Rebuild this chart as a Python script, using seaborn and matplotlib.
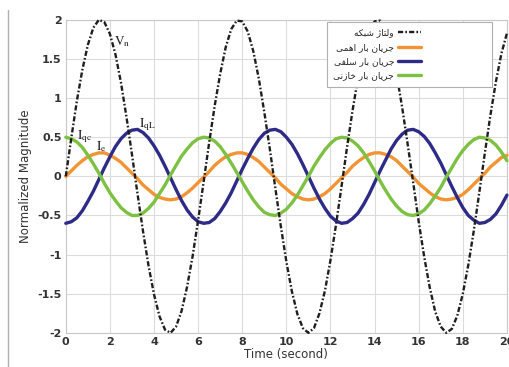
import numpy as np
import pandas as pd
import matplotlib
matplotlib.use("Agg")
import matplotlib.pyplot as plt
from matplotlib.lines import Line2D
import seaborn as sns

# sample times (s)
time = np.arange(0, 20.25, 0.25)

# values
vn = [0.00, 0.49, 0.96, 1.36, 1.68, 1.90, 2.00, 1.97, 1.82, 1.56, 1.20, 0.76, 0.28,
      -0.22, -0.70, -1.14, -1.51, -1.79, -1.96, -2.00, -1.92, -1.72, -1.41, -1.02, -0.56,
      -0.07, 0.43, 0.90, 1.31, 1.65, 1.88, 1.99, 1.98, 1.85, 1.60, 1.25, 0.82,
      0.35, -0.15, -0.64, -1.09, -1.47, -1.76, -1.94, -2.00, -1.94, -1.75, -1.46, -1.07,
      -0.62, -0.13, 0.37, 0.84, 1.26, 1.61, 1.85, 1.98, 1.99, 1.87, 1.64, 1.30,
      0.88, 0.41, -0.08, -0.58, -1.03, -1.42, -1.73, -1.92, -2.00, -1.95, -1.78, -1.50,
      -1.13, -0.69, -0.20, 0.30, 0.78, 1.21, 1.57, 1.83]
ie = [0.00, 0.07, 0.14, 0.20, 0.25, 0.28, 0.30, 0.30, 0.27, 0.23, 0.18, 0.11, 0.04,
      -0.03, -0.11, -0.17, -0.23, -0.27, -0.29, -0.30, -0.29, -0.26, -0.21, -0.15, -0.08,
      -0.01, 0.06, 0.14, 0.20, 0.25, 0.28, 0.30, 0.30, 0.28, 0.24, 0.19, 0.12,
      0.05, -0.02, -0.10, -0.16, -0.22, -0.26, -0.29, -0.30, -0.29, -0.26, -0.22, -0.16,
      -0.09, -0.02, 0.05, 0.13, 0.19, 0.24, 0.28, 0.30, 0.30, 0.28, 0.25, 0.20,
      0.13, 0.06, -0.01, -0.09, -0.15, -0.21, -0.26, -0.29, -0.30, -0.29, -0.27, -0.23,
      -0.17, -0.10, -0.03, 0.04, 0.12, 0.18, 0.24, 0.27]
iql = [-0.60, -0.58, -0.53, -0.44, -0.32, -0.19, -0.04, 0.11, 0.25, 0.38, 0.48, 0.55, 0.59,
       0.60, 0.56, 0.49, 0.39, 0.27, 0.13, -0.02, -0.17, -0.31, -0.43, -0.52, -0.58,
       -0.60, -0.59, -0.54, -0.45, -0.34, -0.21, -0.06, 0.09, 0.23, 0.36, 0.47, 0.55,
       0.59, 0.60, 0.57, 0.50, 0.41, 0.29, 0.15, 0.00, -0.15, -0.29, -0.41, -0.51,
       -0.57, -0.60, -0.59, -0.54, -0.47, -0.36, -0.23, -0.08, 0.07, 0.21, 0.35, 0.46,
       0.54, 0.59, 0.60, 0.57, 0.51, 0.42, 0.30, 0.17, 0.02, -0.13, -0.27, -0.40,
       -0.50, -0.56, -0.60, -0.59, -0.55, -0.48, -0.37, -0.24]
iqc = [0.50, 0.48, 0.44, 0.37, 0.27, 0.16, 0.04, -0.09, -0.21, -0.31, -0.40, -0.46, -0.50,
       -0.50, -0.47, -0.41, -0.33, -0.22, -0.11, 0.02, 0.14, 0.26, 0.35, 0.43, 0.48,
       0.50, 0.49, 0.45, 0.38, 0.28, 0.17, 0.05, -0.07, -0.19, -0.30, -0.39, -0.46,
       -0.49, -0.50, -0.47, -0.42, -0.34, -0.24, -0.12, 0.00, 0.13, 0.24, 0.34, 0.42,
       0.48, 0.50, 0.49, 0.45, 0.39, 0.30, 0.19, 0.07, -0.06, -0.18, -0.29, -0.38,
       -0.45, -0.49, -0.50, -0.48, -0.43, -0.35, -0.25, -0.14, -0.01, 0.11, 0.23, 0.33,
       0.41, 0.47, 0.50, 0.49, 0.46, 0.40, 0.31, 0.20]

labels = ["ولتاژ شبکه", "جریان بار اهمی", "جریان بار سلفی", "جریان بار خازنی"]
colors = ["#1e1e1e", "#f29434", "#2d2b87", "#7dc143"]

# matplotlib has no arabic shaping -> pick presentation forms by hand
FORMS = {
    "ا": ("\ufe8d", "\ufe8e", None, None),
    "ب": ("\ufe8f", "\ufe90", "\ufe91", "\ufe92"),
    "ت": ("\ufe95", "\ufe96", "\ufe97", "\ufe98"),
    "ج": ("\ufe9d", "\ufe9e", "\ufe9f", "\ufea0"),
    "خ": ("\ufea5", "\ufea6", "\ufea7", "\ufea8"),
    "ر": ("\ufead", "\ufeae", None, None),
    "ز": ("\ufeaf", "\ufeb0", None, None),
    "ژ": ("\ufb8a", "\ufb8b", None, None),
    "س": ("\ufeb1", "\ufeb2", "\ufeb3", "\ufeb4"),
    "ش": ("\ufeb5", "\ufeb6", "\ufeb7", "\ufeb8"),
    "ف": ("\ufed1", "\ufed2", "\ufed3", "\ufed4"),
    "ک": ("\ufb8e", "\ufb8f", "\ufb90", "\ufb91"),
    "ل": ("\ufedd", "\ufede", "\ufedf", "\ufee0"),
    "م": ("\ufee1", "\ufee2", "\ufee3", "\ufee4"),
    "ن": ("\ufee5", "\ufee6", "\ufee7", "\ufee8"),
    "ه": ("\ufee9", "\ufeea", "\ufeeb", "\ufeec"),
    "و": ("\ufeed", "\ufeee", None, None),
    "ی": ("\ufbfc", "\ufbfd", "\ufbfe", "\ufbff"),
}


def shape(s):
    out = []
    for i, ch in enumerate(s):
        if ch not in FORMS:
            out.append(ch)
            continue
        iso, fin, ini, med = FORMS[ch]
        prev = s[i - 1] if i > 0 else None
        nxt = s[i + 1] if i + 1 < len(s) else None
        jp = prev in FORMS and FORMS[prev][2] is not None
        jn = ini is not None and nxt in FORMS
        if jp and jn:
            out.append(med)
        elif jp:
            out.append(fin)
        elif jn:
            out.append(ini)
        else:
            out.append(iso)
    return "".join(out)[::-1]


if __name__ == "__main__":
    sns.set_style("whitegrid", {"grid.color": "#dcdcdc", "axes.edgecolor": "#c8c8c8"})
    plt.rcParams["font.family"] = ["DejaVu Sans"]
    plt.rcParams["axes.unicode_minus"] = False
    plt.rcParams["mathtext.fontset"] = "stix"

    fig = plt.figure(figsize=(5.1, 3.67), dpi=100)
    ax = fig.add_axes([0.129, 0.093, 0.865, 0.853])

    df = pd.DataFrame({"t": time, "vn": vn, "ie": ie, "iql": iql, "iqc": iqc})
    sns.lineplot(data=df, x="t", y="vn", ax=ax, color=colors[0], linewidth=1.7,
                 dashes=False, label=shape(labels[0]), zorder=5, clip_on=False)
    ax.lines[-1].set_dashes((2.2, 0.9, 0.7, 0.9))
    for col, c, lab in zip(["ie", "iql", "iqc"], colors[1:], labels[1:]):
        sns.lineplot(data=df, x="t", y=col, ax=ax, color=c, linewidth=2.4,
                     label=shape(lab), zorder=4, clip_on=False)

    ax.set_xlim(0, 20)
    ax.set_ylim(-2, 2)
    ax.set_xticks(range(0, 21, 2))
    ax.set_yticks([-2, -1.5, -1, -0.5, 0, 0.5, 1, 1.5, 2])
    ax.set_yticklabels(["-2", "-1.5", "-1", "-0.5", "0", "0.5", "1", "1.5", "2"])
    ax.tick_params(labelsize=8, pad=3, length=0, colors="#333333")
    for lab in ax.get_xticklabels() + ax.get_yticklabels():
        lab.set_fontweight("bold")
    ax.set_xlabel("Time (second)", fontsize=8.5, color="#333333", labelpad=1)
    ax.set_ylabel("Normalized Magnitude", fontsize=8.5, color="#333333", labelpad=4)

    ax.text(2.2, 1.68, r"$\mathrm{V_n}$", fontsize=9.5, color="#222222")
    ax.text(3.3, 0.63, r"$\mathrm{I_{qL}}$", fontsize=9.5, color="#222222")
    ax.text(0.5, 0.47, r"$\mathrm{I_{qc}}$", fontsize=9.5, color="#222222")
    ax.text(1.35, 0.34, r"$\mathrm{I_e}$", fontsize=9.5, color="#222222")

    leg = ax.legend(loc="upper left", bbox_to_anchor=(0.592, 0.786, 0.374, 0.207),
                    mode="expand", borderaxespad=0, fontsize=6.5,
                    markerfirst=False, frameon=True, fancybox=False,
                    handlelength=2.6, handletextpad=0.4, labelspacing=0.6,
                    borderpad=0.7)
    leg.get_frame().set_edgecolor("#b0b0b0")
    leg.get_frame().set_linewidth(0.8)
    leg.get_frame().set_alpha(1)
    leg.set_zorder(10)

    fig.add_artist(Line2D([0.016, 0.016], [0.0, 0.973], color="#b0b0b0", linewidth=1))

    plt.savefig("out.png", dpi=100)
